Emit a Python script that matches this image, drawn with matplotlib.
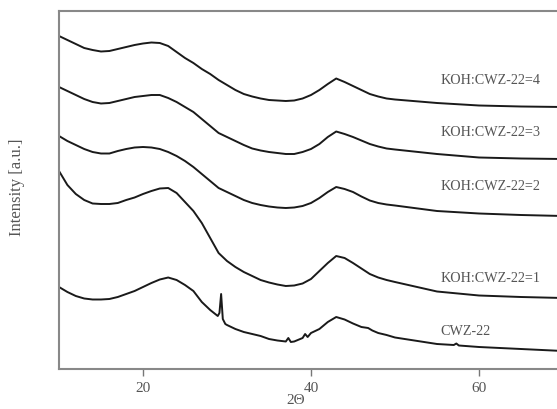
import matplotlib
matplotlib.use("Agg")
import matplotlib.pyplot as plt

# 2-theta grid shared by the KOH-activated samples
two_theta = [10, 11, 12, 13, 14, 15, 16, 17, 18, 19, 20, 21, 22, 23, 24, 25, 26, 27, 28, 29,
             30, 31, 32, 33, 34, 35, 36, 37, 38, 39, 40, 41, 42, 43, 44, 45, 46, 47, 48, 49,
             50, 55, 60, 65, 70]

# intensities (arbitrary units, stacked as in the figure)
koh4 = [373, 369, 365, 361, 359, 357.5, 358, 360, 362, 364, 365.5, 366.5, 366, 363, 357, 351,
        346, 340, 335, 329, 324, 319, 315, 312.5, 310.5, 309, 308.5, 308, 308.5, 310.5, 314,
        319, 325, 330.5, 327, 323, 319, 315, 312.5, 310.5, 309.5, 306, 303.5, 302.5, 302]
koh3 = [322, 318, 314, 310, 307, 305.5, 306, 308, 310, 312, 313, 314, 314, 311, 307, 302,
        297, 290, 283, 276, 272, 268, 264, 260.5, 258.5, 257, 256, 255, 255, 257, 260,
        265, 272, 277.5, 275, 272, 268.5, 265, 262.5, 260.5, 259.5, 255, 251.5, 250.5, 250]
koh2 = [273, 268, 264, 260, 257, 255.5, 255.5, 258, 260, 261.5, 262, 261.5, 260, 257, 253, 248,
        242, 235, 228, 221, 217, 213, 209, 206, 204, 202.5, 201.5, 201, 201.5, 203, 206,
        211, 217, 222, 220, 217, 212.5, 208.5, 206, 204.5, 203.5, 198, 195.5, 194, 193]
koh1 = [238, 224, 215, 209, 205.5, 205, 205, 206, 209, 211.5, 215, 218, 220.5, 221, 216, 207,
        198, 186, 171, 156, 148, 142, 137, 133, 129, 126.5, 124.5, 123, 123.5, 125.5, 130,
        138, 146, 153, 151, 146, 140.5, 135, 131.5, 129, 127, 117.5, 113.5, 112, 111]

# parent carbon, with the sharp reflection near 29.3 deg
two_theta_cwz = [10, 11, 12, 13, 14, 15, 16, 17, 18, 19, 20, 21, 22, 23, 24, 25, 26, 27, 28,
                 28.9, 29.1, 29.3, 29.5, 29.8, 30, 31, 32, 33, 34, 35, 36, 37, 37.3, 37.6, 38,
                 39, 39.3, 39.6, 40, 41, 42, 43, 44, 45, 46, 46.8, 47.3, 48, 49, 50, 55, 57,
                 57.3, 57.6, 60, 65, 70]
cwz22 = [122, 117, 113, 110.5, 109.5, 109.5, 110, 112, 115, 118, 122, 126, 129.5, 131.5, 129,
         124, 118, 107, 99, 93, 96, 115, 90, 85, 84, 80, 77, 75, 73, 70, 68.5, 67.5, 71, 67,
         67.5, 71, 75, 72, 76, 80, 87, 92, 89.5, 85.5, 82, 81, 78.5, 76, 74, 71.5, 65, 64,
         65.5, 63.5, 62, 60, 58]

series = [koh4, koh3, koh2, koh1]
labels = ["KOH:CWZ-22=4", "KOH:CWZ-22=3", "KOH:CWZ-22=2", "KOH:CWZ-22=1", "CWZ-22"]
label_y = [330, 277, 223, 132, 78]
xticks = [20, 40, 60]

serif = ["Liberation Serif", "DejaVu Serif"]
plt.rcParams["font.family"] = serif

fig = plt.figure(figsize=(5.57, 4.10), dpi=100)
ax = fig.add_axes([59/557, 40/410, (563-59)/557, 358/410])

for s in series:
    ax.plot(two_theta, s, color="#1a1a1a", lw=1.4, solid_joinstyle="round")
ax.plot(two_theta_cwz, cwz22, color="#1a1a1a", lw=1.4, solid_joinstyle="round")

for lab, ly in zip(labels, label_y):
    ax.text(55.4, ly, lab, fontsize=10.2, color="#555555", va="center", ha="left")

ax.set_xlim(10, 70)
ax.set_ylim(40, 398)
ax.set_xticks(xticks)
ax.set_yticks([])
ax.tick_params(axis="x", direction="out", length=5, width=1, color="#777777",
               labelsize=11, labelcolor="#555555", pad=4)
for sp in ax.spines.values():
    sp.set_color("#888888")
    sp.set_linewidth(1.5)
ax.spines["right"].set_visible(False)
ax.set_xlabel("2Θ", fontsize=11, color="#555555", va="center")
ax.xaxis.set_label_coords(0.47, -0.085)
ax.set_ylabel("Intensity [a.u.]", fontsize=12, color="#555555", va="center")
ax.yaxis.set_label_coords(-0.083, 0.51)

fig.savefig("out.png", dpi=100)
